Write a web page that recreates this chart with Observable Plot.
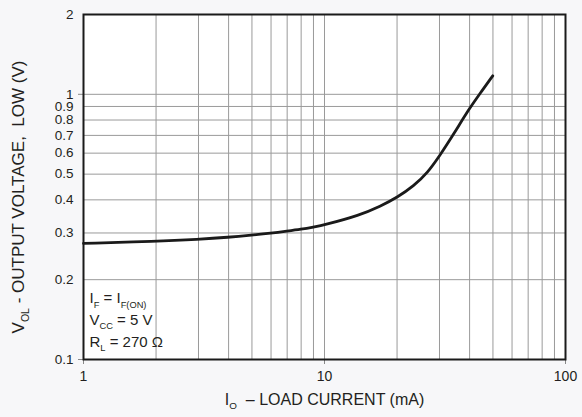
<!DOCTYPE html>
<html><head><meta charset="utf-8">
<script src="https://cdn.jsdelivr.net/npm/d3@7"></script>
<script src="https://cdn.jsdelivr.net/npm/@observablehq/plot@0.6"></script>
<style>
html,body{margin:0;padding:0;background:#f7f7f9;}
#chart svg{display:block;}
#chart svg text{white-space:pre;}
</style></head><body><div id="chart"></div>
<script>
// Data
const loadCurrent   = [1, 2, 3, 4, 5, 6, 7, 8, 9, 10, 14, 17.1, 20, 23.5, 26.7, 30, 34.4, 40, 44.4, 49.9];
const outputVoltage = [0.274, 0.279, 0.284, 0.289, 0.2945, 0.2995, 0.305, 0.310, 0.316, 0.322, 0.350, 0.379, 0.408, 0.452, 0.505, 0.585, 0.710, 0.887, 1.014, 1.174];
const xTicks = [1, 10, 100];
const xGrid  = [2, 3, 4, 5, 6, 7, 8, 9, 10, 20, 30, 40, 50, 60, 70, 80, 90];
const yTicks = [0.1, 0.2, 0.3, 0.4, 0.5, 0.6, 0.7, 0.8, 0.9, 1, 2];
const yGrid  = [0.2, 0.3, 0.4, 0.5, 0.6, 0.7, 0.8, 0.9, 1];
const yMajor = [0.1, 1];
const xLabel = "I_{O}  – LOAD CURRENT (mA)";
const yLabel = "V_{OL} - OUTPUT VOLTAGE,  LOW (V)";
const noteLines = ["I_{F} = I_{F(ON)}", "V_{CC} = 5 V", "R_{L} = 270 Ω"];

const points = loadCurrent.map((x, i) => ({x, y: outputVoltage[i]}));
const ink = "#231f20";
const gridColor = "#9a9a9a";

const chart = Plot.plot({
  width: 582, height: 417,
  marginLeft: 83, marginRight: 17, marginTop: 14, marginBottom: 58,
  style: {background: "transparent", fontFamily: "'Liberation Sans', Arial, Helvetica, sans-serif", color: ink, overflow: "visible"},
  x: {type: "log", domain: [1, 100]},
  y: {type: "log", domain: [0.1, 2]},
  marks: [
    Plot.frame({fill: "white"}),
    Plot.ruleX(xGrid, {stroke: gridColor, strokeWidth: 1}),
    Plot.ruleY(yGrid, {stroke: gridColor, strokeWidth: 1}),
    Plot.axisX({ticks: xTicks, tickSize: 5, tickPadding: 7, tickFormat: d => String(d), fontSize: 14, label: null, stroke: "#888", color: ink}),
    Plot.axisY({ticks: yTicks, tickSize: 0, tickPadding: 10, tickFormat: d => String(d), fontSize: 13.5, label: null, color: ink}),
    Plot.axisY({ticks: yMajor, tickSize: 5, tickFormat: () => "", label: null, stroke: "#888"}),
    Plot.line(points, {x: "x", y: "y", curve: "basis", stroke: "#1a1a1a", strokeWidth: 2.8}),
    Plot.frame({stroke: "#1a1a1a", strokeWidth: 2}),
    Plot.text([noteLines.join("\n")], {frameAnchor: "bottom-left", textAnchor: "start", lineAnchor: "bottom", dx: 6, dy: -13, fontSize: 15, lineHeight: 1.45, text: d => d, fill: ink}),
    Plot.text([xLabel], {frameAnchor: "bottom", textAnchor: "middle", dy: 45, fontSize: 16, text: d => d, fill: ink}),
    Plot.text([yLabel], {frameAnchor: "left", textAnchor: "middle", dx: -65, dy: 10, rotate: -90, fontSize: 17, text: d => d, fill: ink})
  ]
});
document.getElementById("chart").appendChild(chart);

// Turn _{...} into real subscript tspans
const NS = "http://www.w3.org/2000/svg";
function mk(s) { const t = document.createElementNS(NS, "tspan"); t.textContent = s; return t; }
function applySubs(svg) {
  const nodes = [...svg.querySelectorAll("text, tspan")].filter(n => n.children.length === 0 && n.textContent.includes("_{"));
  for (const n of nodes) {
    const fs = parseFloat(getComputedStyle(n).fontSize) || 14;
    const sh = +(fs * 0.3).toFixed(2);
    const s = n.textContent; n.textContent = "";
    const re = /_\{([^}]*)\}/g; let last = 0, m, shifted = false;
    while ((m = re.exec(s))) {
      const pre = s.slice(last, m.index);
      if (pre) { const t = mk(pre); if (shifted) { t.setAttribute("dy", -sh); shifted = false; } n.appendChild(t); }
      const sub = mk(m[1]); sub.setAttribute("font-size", (fs * 0.62).toFixed(1)); sub.setAttribute("dy", sh); shifted = true; n.appendChild(sub);
      last = re.lastIndex;
    }
    const rest = s.slice(last);
    if (rest || shifted) { const t = mk(rest || " "); if (shifted) t.setAttribute("dy", -sh); n.appendChild(t); }
  }
}
applySubs(chart);
</script></body></html>
